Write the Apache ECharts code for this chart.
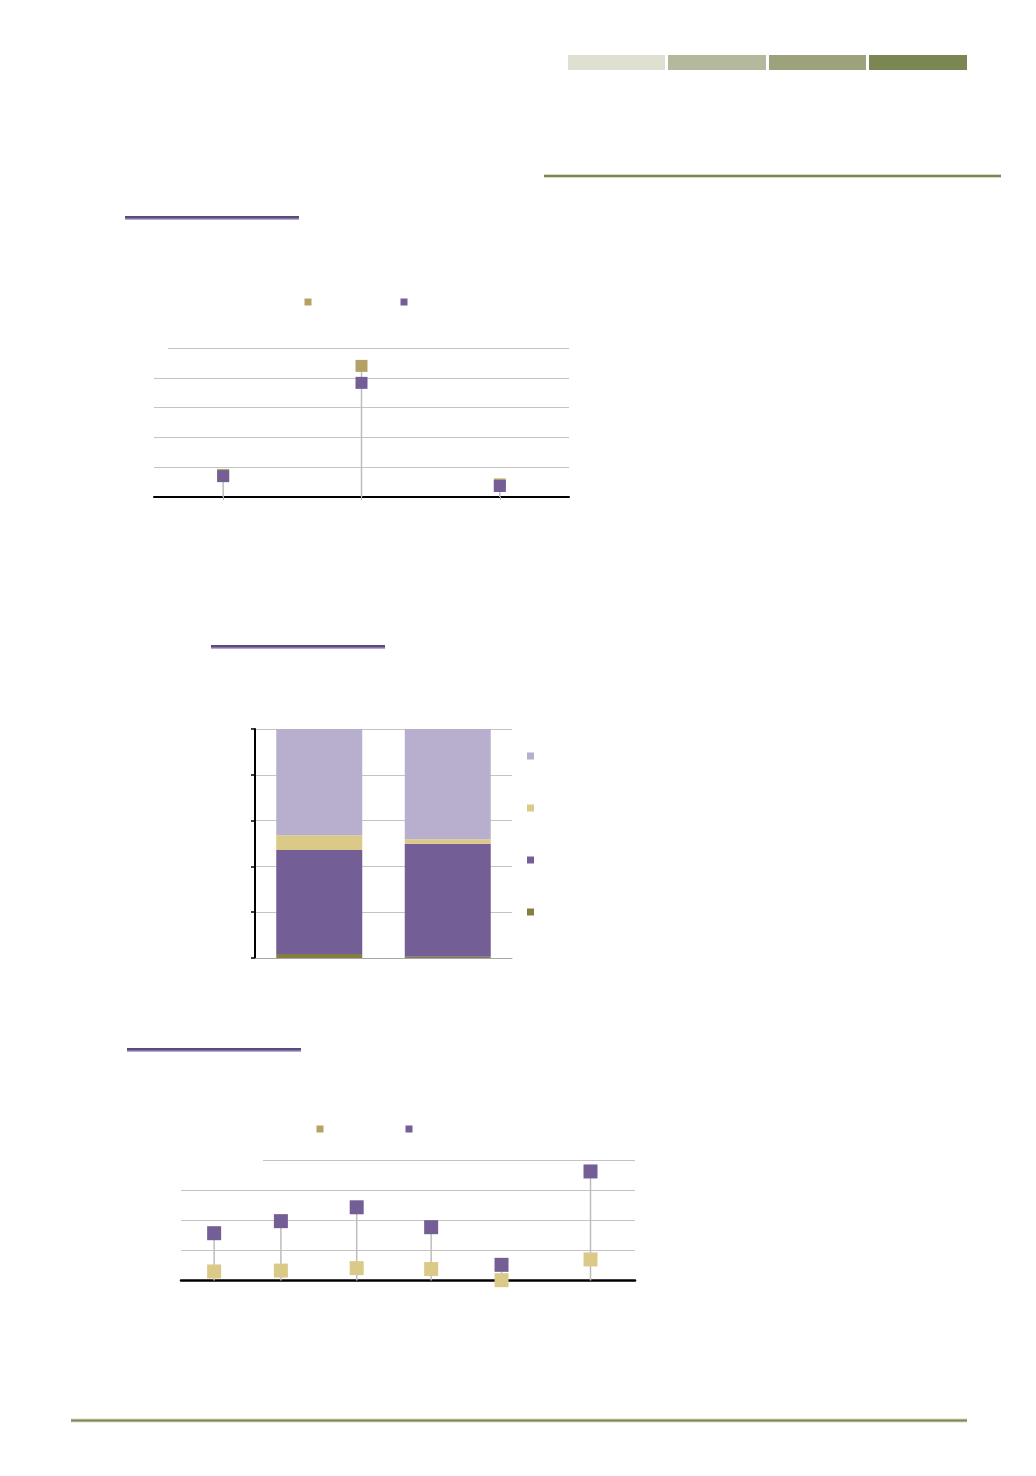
<!DOCTYPE html>
<html>
<head>
<meta charset="utf-8">
<script src="https://cdn.jsdelivr.net/npm/echarts@6/dist/echarts.min.js"></script>
<style>
html,body{margin:0;padding:0;background:#fff;}
#c{width:1036px;height:1476px;}
</style>
</head>
<body>
<div id="c"></div>
<script>
// ---------- DATA ----------
// Chart 1 (dot plot, 3 categories)
const cats1 = ['Catégorie 1', 'Catégorie 2', 'Catégorie 3'];
const seriesNames1 = ['Série A', 'Série B'];
const gold1 = [0.74, 4.40, 0.42];
const purple1 = [0.70, 3.83, 0.37];

// Chart 2 (100% stacked bars, 2 categories)
const cats2 = ['Groupe 1', 'Groupe 2'];
const stackNames2 = ['S1', 'S2', 'S3', 'S4'];
const olive2 = [1.7, 0.6];
const purple2 = [45.5, 49.3];
const gold2 = [6.4, 2.0];
const lavender2 = [46.4, 48.1];

// Chart 3 (dot plot, 6 points on value x-axis)
const seriesNames3 = ['Série A', 'Série B'];
const xValues3 = [7.3, 22.0, 38.7, 55.1, 70.6, 90.2];
const gold3 = [0.30, 0.33, 0.41, 0.38, 0.01, 0.70];
const purple3 = [1.57, 1.97, 2.43, 1.77, 0.52, 3.62];

// ---------- STYLE ----------
const C = {
  purple: '#745E96', goldDark: '#B3A263', goldLight: '#DBCA87',
  lavender: '#B8AECD', olive: '#847F3E', grid: '#C4C4C4', drop: '#BDBDBD'
};

const maxOf = (a, b) => a.map((v, i) => Math.max(v, b[i]));

const chart = echarts.init(document.getElementById('c'));
const option = {
  animation: false,
  backgroundColor: '#fff',
  grid: [
    { left: 154, right: 467, top: 348, bottom: 979 },
    { left: 255, right: 524, top: 729, bottom: 518 },
    { left: 181, right: 401, top: 1160, bottom: 195.5 }
  ],
  xAxis: [
    { gridIndex: 0, type: 'category', data: cats1, boundaryGap: true,
      axisLine: { lineStyle: { color: '#000', width: 2 } },
      axisTick: { show: true, alignWithLabel: true, length: 3, lineStyle: { color: '#BBB' } },
      axisLabel: { show: false }, splitLine: { show: false } },
    { gridIndex: 1, type: 'category', data: cats2,
      axisLine: { lineStyle: { color: '#A8A8A8', width: 1 } },
      axisTick: { show: false }, axisLabel: { show: false } },
    { gridIndex: 2, type: 'value', min: 0, max: 100,
      axisLine: { show: true, onZero: false, lineStyle: { color: '#000', width: 2.5 } },
      axisTick: { show: false }, axisLabel: { show: false }, splitLine: { show: false } }
  ],
  yAxis: [
    { gridIndex: 0, type: 'value', min: 0, max: 5, interval: 1,
      axisLine: { show: false }, axisTick: { show: false }, axisLabel: { show: false },
      splitLine: { lineStyle: { color: C.grid, width: 1 } } },
    { gridIndex: 1, type: 'value', min: 0, max: 100, interval: 20,
      axisLine: { show: true, lineStyle: { color: '#000', width: 2 } },
      axisTick: { show: true, inside: false, length: 4, lineStyle: { color: '#000', width: 1.5 } },
      axisLabel: { show: false },
      splitLine: { lineStyle: { color: C.grid, width: 1 } } },
    { gridIndex: 2, type: 'value', min: 0, max: 4, interval: 1,
      axisLine: { show: false }, axisTick: { show: false }, axisLabel: { show: false },
      splitLine: { lineStyle: { color: C.grid, width: 1 } } }
  ],
  legend: [
    { left: 304.5, top: 298.5, padding: 0, itemWidth: 7, itemHeight: 7, itemGap: 89,
      icon: 'rect', formatter: () => '', textStyle: { fontSize: 6 },
      data: [{ name: seriesNames1[0], itemStyle: { color: C.goldDark, opacity: 1 } },
             { name: seriesNames1[1], itemStyle: { color: C.purple, opacity: 1 } }] },
    { left: 527, top: 752.5, orient: 'vertical', padding: 0, itemWidth: 7, itemHeight: 7, itemGap: 45,
      icon: 'rect', formatter: () => '', textStyle: { fontSize: 6 },
      data: [stackNames2[3], stackNames2[2], stackNames2[1], stackNames2[0]] },
    { left: 316.5, top: 1125.5, padding: 0, itemWidth: 7, itemHeight: 7, itemGap: 82,
      icon: 'rect', formatter: () => '', textStyle: { fontSize: 6 },
      data: [{ name: seriesNames3[0] + ' ', itemStyle: { color: C.goldDark, opacity: 1 } },
             { name: seriesNames3[1] + ' ', itemStyle: { color: C.purple, opacity: 1 } }] }
  ],
  graphic: [
    // header colour blocks
    { type: 'rect', shape: { x: 568, y: 55, width: 97, height: 15 }, style: { fill: '#DFE0D2' } },
    { type: 'rect', shape: { x: 668, y: 55, width: 98, height: 15 }, style: { fill: '#B4B89C' } },
    { type: 'rect', shape: { x: 769, y: 55, width: 97, height: 15 }, style: { fill: '#9DA27C' } },
    { type: 'rect', shape: { x: 869, y: 55, width: 98, height: 15 }, style: { fill: '#7B8752' } },
    // green rule
    { type: 'rect', shape: { x: 544, y: 174, width: 457, height: 4 }, style: { fill: '#D7DAC7' } },
    { type: 'rect', shape: { x: 544, y: 175, width: 457, height: 2 }, style: { fill: '#7B8752' } },
    // purple section rules
    { type: 'rect', shape: { x: 125, y: 216, width: 174, height: 4 }, style: { fill: '#B5A9CC' } },
    { type: 'rect', shape: { x: 125, y: 216, width: 174, height: 2.5 }, style: { fill: '#5B4A7E' } },
    { type: 'rect', shape: { x: 211, y: 645, width: 174, height: 4 }, style: { fill: '#B5A9CC' } },
    { type: 'rect', shape: { x: 211, y: 645, width: 174, height: 2.5 }, style: { fill: '#5B4A7E' } },
    { type: 'rect', shape: { x: 127, y: 1048, width: 174, height: 4 }, style: { fill: '#B5A9CC' } },
    { type: 'rect', shape: { x: 127, y: 1048, width: 174, height: 2.5 }, style: { fill: '#5B4A7E' } },
    // bottom green rule
    { type: 'rect', shape: { x: 71, y: 1418.5, width: 896, height: 4 }, style: { fill: '#D7DAC7' } },
    { type: 'rect', shape: { x: 71, y: 1419.5, width: 896, height: 2 }, style: { fill: '#7B8752' } },
    // white boxes masking start of top gridlines
    { type: 'rect', z: 100, shape: { x: 150, y: 345, width: 18, height: 6 }, style: { fill: '#fff' } },
    { type: 'rect', z: 100, shape: { x: 178, y: 1157, width: 85, height: 6 }, style: { fill: '#fff' } }
  ],
  series: [
    // ---- chart 1
    { type: 'bar', xAxisIndex: 0, yAxisIndex: 0, data: maxOf(gold1, purple1), barWidth: 1.5,
      itemStyle: { color: C.drop }, z: 1, silent: true },
    { name: seriesNames1[0], type: 'scatter', xAxisIndex: 0, yAxisIndex: 0, data: gold1,
      symbol: 'rect', symbolSize: 12, itemStyle: { color: C.goldDark, opacity: 1 }, z: 2 },
    { name: seriesNames1[1], type: 'scatter', xAxisIndex: 0, yAxisIndex: 0, data: purple1,
      symbol: 'rect', symbolSize: 12, itemStyle: { color: C.purple, opacity: 1 }, z: 3 },
    // ---- chart 2
    { name: stackNames2[0], type: 'bar', stack: 's', xAxisIndex: 1, yAxisIndex: 1, data: olive2,
      barWidth: 86, itemStyle: { color: C.olive } },
    { name: stackNames2[1], type: 'bar', stack: 's', xAxisIndex: 1, yAxisIndex: 1, data: purple2,
      barWidth: 86, itemStyle: { color: C.purple } },
    { name: stackNames2[2], type: 'bar', stack: 's', xAxisIndex: 1, yAxisIndex: 1, data: gold2,
      barWidth: 86, itemStyle: { color: C.goldLight } },
    { name: stackNames2[3], type: 'bar', stack: 's', xAxisIndex: 1, yAxisIndex: 1, data: lavender2,
      barWidth: 86, itemStyle: { color: C.lavender } },
    // ---- chart 3
    { type: 'bar', xAxisIndex: 2, yAxisIndex: 2, barWidth: 1.5,
      data: xValues3.map((x, i) => [x, Math.max(gold3[i], purple3[i])]),
      itemStyle: { color: C.drop }, z: 1, silent: true },
    { name: seriesNames3[0] + ' ', type: 'scatter', xAxisIndex: 2, yAxisIndex: 2,
      data: xValues3.map((x, i) => [x, gold3[i]]),
      symbol: 'rect', symbolSize: 14, itemStyle: { color: C.goldLight, opacity: 1 }, z: 2 },
    { name: seriesNames3[1] + ' ', type: 'scatter', xAxisIndex: 2, yAxisIndex: 2,
      data: xValues3.map((x, i) => [x, purple3[i]]),
      symbol: 'rect', symbolSize: 14, itemStyle: { color: C.purple, opacity: 1 }, z: 3 }
  ]
};
chart.setOption(option);
</script>
</body>
</html>
